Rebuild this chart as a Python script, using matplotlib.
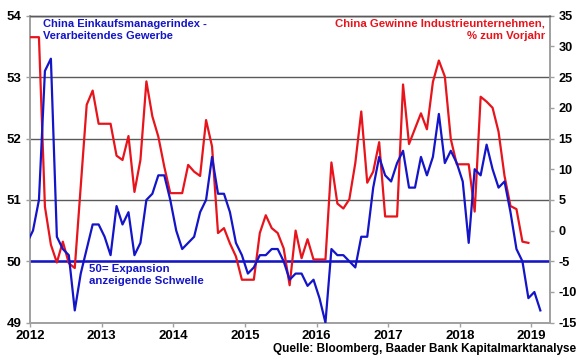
import numpy as np
import matplotlib
matplotlib.use("Agg")
import matplotlib.pyplot as plt

plt.rcParams["font.family"] = ["Liberation Sans", "DejaVu Sans"]
plt.rcParams["font.weight"] = "bold"
plt.rcParams["axes.unicode_minus"] = False

# ── Data (monthly, Dec 2011 .. Feb 2019) ─────────────────────────
YEARS = [2012, 2013, 2014, 2015, 2016, 2017, 2018, 2019]

PMI_DEC_2011 = 50.3
PMI = {
    2012: [50.5, 51.0, 53.1, 53.3, 50.4, 50.2, 50.1, 49.2, 49.8, 50.2, 50.6, 50.6],
    2013: [50.4, 50.1, 50.9, 50.6, 50.8, 50.1, 50.3, 51.0, 51.1, 51.4, 51.4, 51.0],
    2014: [50.5, 50.2, 50.3, 50.4, 50.8, 51.0, 51.7, 51.1, 51.1, 50.8, 50.3, 50.1],
    2015: [49.8, 49.9, 50.1, 50.1, 50.2, 50.2, 50.0, 49.7, 49.8, 49.8, 49.6, 49.7],
    2016: [49.4, 49.0, 50.2, 50.1, 50.1, 50.0, 49.9, 50.4, 50.4, 51.2, 51.7, 51.4],
    2017: [51.3, 51.6, 51.8, 51.2, 51.2, 51.7, 51.4, 51.7, 52.4, 51.6, 51.8, 51.6],
    2018: [51.3, 50.3, 51.5, 51.4, 51.9, 51.5, 51.2, 51.3, 50.8, 50.2, 50.0, 49.4],
    2019: [49.5, 49.2],
}

PROFIT_DEC_2011 = 31.5
PROFIT = {
    2012: [31.5, 31.5, 3.9, -2.3, -5.2, -1.8, -5.3, -6.1, 7.2, 20.5, 22.8, 17.4],
    2013: [17.4, 17.4, 12.2, 11.5, 15.4, 6.3, 11.5, 24.3, 18.6, 15.3, 10.4, 6.1],
    2014: [6.1, 6.1, 10.7, 9.6, 8.9, 18.0, 13.7, -0.4, 0.4, -2.1, -4.2, -8.0],
    2015: [-8.0, -8.0, -0.4, 2.5, 0.4, -0.4, -2.9, -8.9, 0.0, -4.5, -1.4, -4.7],
    2016: [-4.7, -4.7, 11.1, 4.4, 3.6, 5.1, 11.0, 19.4, 7.8, 9.6, 14.4, 2.3],
    2017: [2.3, 2.3, 23.8, 14.1, 16.6, 19.1, 16.5, 24.2, 27.7, 25.1, 14.9, 10.8],
    2018: [10.8, 10.8, 3.1, 21.8, 21.0, 20.0, 16.1, 8.9, 4.0, 3.5, -1.8, -2.0],
}

THRESHOLD = 50

LEFT_TICKS = [49, 50, 51, 52, 53, 54]
RIGHT_TICKS = [-15, -10, -5, 0, 5, 10, 15, 20, 25, 30, 35]

BLUE = "#1414c8"
RED = "#e8141c"
GRID = "#5a5a5a"
SPINE = "#a0a0a0"


def monthly_xy(dec_prev, by_year):
    """Mid-month decimal-year positions, starting with December of the year before."""
    x = [YEARS[0] - 0.5 / 12]
    y = [dec_prev]
    for yr in sorted(by_year):
        for m, v in enumerate(by_year[yr]):
            x.append(yr + (m + 0.5) / 12)
            y.append(v)
    return np.array(x), np.array(y)


pmi_x, pmi_y = monthly_xy(PMI_DEC_2011, PMI)
prof_x, prof_y = monthly_xy(PROFIT_DEC_2011, PROFIT)

fig = plt.figure(figsize=(5.8, 3.59), dpi=100)
ax = fig.add_axes([30 / 580, 1 - 322.7 / 359, 520 / 580, 307 / 359])
ax2 = ax.twinx()

# left axis (PMI)
ax.set_xlim(2012, 2019.26)
ax.set_ylim(49, 54)
ax.set_yticks(LEFT_TICKS)
ax.yaxis.grid(True, color=GRID, linewidth=1.0)
ax.set_axisbelow(True)
ax.axhline(THRESHOLD, color=BLUE, linewidth=1.8, zorder=3)

# right axis (profits) — same grid, 10x scale
ax2.set_ylim(-15, 35)
ax2.set_yticks(RIGHT_TICKS)

ax2.plot(prof_x, prof_y, color=RED, linewidth=1.6, zorder=4)
ax2.plot(pmi_x, (pmi_y - 54) * 10 + 35, color=BLUE, linewidth=1.6, zorder=5)

ax.set_xticks(YEARS)
ax.set_xticklabels([str(y) for y in YEARS])

for a in (ax, ax2):
    a.spines["top"].set_color(GRID)
    a.spines["top"].set_linewidth(1.0)
    for side in ("left", "right", "bottom"):
        a.spines[side].set_color(SPINE)
        a.spines[side].set_linewidth(1.2)
    a.tick_params(colors="black", labelsize=9.5, length=3, width=1, color=SPINE)
ax.tick_params(axis="x", pad=2)
ax.tick_params(axis="y", pad=3)
ax2.tick_params(axis="y", pad=3, labelsize=9.2)
ax.patch.set_visible(False)

for lbl in ax.get_xticklabels() + ax.get_yticklabels() + ax2.get_yticklabels():
    lbl.set_fontweight("bold")

# texts
fig.text(43 / 580, 1 - 19 / 359, "China Einkaufsmanagerindex -\nVerarbeitendes Gewerbe",
         color=BLUE, fontsize=8, fontweight="bold", ha="left", va="top", linespacing=1.3)
fig.text(545 / 580, 1 - 19 / 359, "China Gewinne Industrieunternehmen,\n% zum Vorjahr",
         color=RED, fontsize=8.2, fontweight="bold", ha="right", va="top", linespacing=1.3,
         multialignment="right")
fig.text(89 / 580, 1 - 264 / 359, "50= Expansion\nanzeigende Schwelle",
         color=BLUE, fontsize=8.2, fontweight="bold", ha="left", va="top", linespacing=1.3)
fig.text(576 / 580, 1 - 352 / 359, "Quelle: Bloomberg, Baader Bank Kapitalmarktanalyse",
         color="black", fontsize=8.5, fontweight="bold", ha="right", va="baseline")

fig.savefig("out.png", dpi=100)
